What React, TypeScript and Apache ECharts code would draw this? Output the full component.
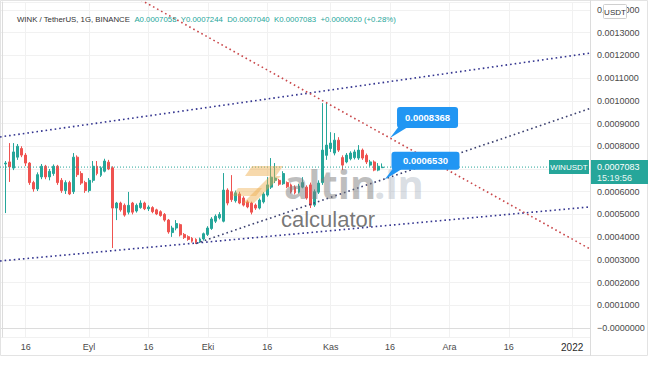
import React, { useEffect, useRef } from 'react';
import * as echarts from 'echarts';

// ---- data ----
const firstDayUTC = Date.UTC(2021, 7, 10); // first category: 2021-08-10
const dayCount = 149; // 2021-08-10 .. 2022-01-05
const firstCandleIndex = 1; // first candle on 2021-08-11

// [open, close, low, high]
const ohlc: number[][] = [
  [0.000722, 0.000726, 0.000506, 0.000735],
  [0.000731, 0.000709, 0.000643, 0.000814],
  [0.000704, 0.000775, 0.000695, 0.000814],
  [0.000752, 0.0008, 0.00074, 0.00081],
  [0.00079, 0.000761, 0.000752, 0.0008],
  [0.000761, 0.000726, 0.000713, 0.00077],
  [0.000726, 0.00064, 0.00063, 0.00073],
  [0.00064, 0.000612, 0.0006, 0.000648],
  [0.000612, 0.000675, 0.000603, 0.000685],
  [0.000665, 0.000712, 0.000655, 0.000722],
  [0.000712, 0.000665, 0.000655, 0.000718],
  [0.000665, 0.00069, 0.00065, 0.0007],
  [0.00068, 0.000712, 0.00067, 0.00072],
  [0.000712, 0.00064, 0.00063, 0.000718],
  [0.00065, 0.000605, 0.000595, 0.00066],
  [0.000605, 0.00064, 0.00059, 0.00065],
  [0.00064, 0.00059, 0.000585, 0.000648],
  [0.0006, 0.000752, 0.00059, 0.00077],
  [0.000752, 0.000675, 0.000665, 0.00076],
  [0.00068, 0.000638, 0.00063, 0.00069],
  [0.00064, 0.000605, 0.000595, 0.000648],
  [0.000605, 0.00065, 0.000597, 0.00066],
  [0.00065, 0.000712, 0.00064, 0.000735],
  [0.000712, 0.00068, 0.000672, 0.000735],
  [0.000672, 0.000705, 0.000665, 0.000712],
  [0.00069, 0.000735, 0.000685, 0.000745],
  [0.00073, 0.0007, 0.000695, 0.00074],
  [0.000705, 0.000528, 0.000352, 0.000712],
  [0.000528, 0.00055, 0.000475, 0.000555],
  [0.00055, 0.00052, 0.000512, 0.000556],
  [0.00054, 0.000497, 0.00049, 0.000548],
  [0.00051, 0.00054, 0.0005, 0.000599],
  [0.00055, 0.00051, 0.0005, 0.000555],
  [0.000515, 0.00054, 0.000508, 0.000548],
  [0.00053, 0.00055, 0.000525, 0.000562],
  [0.00055, 0.000525, 0.000519, 0.000556],
  [0.000525, 0.000532, 0.000515, 0.00054],
  [0.00053, 0.000512, 0.000505, 0.000536],
  [0.00052, 0.000502, 0.000497, 0.000525],
  [0.000512, 0.000495, 0.00049, 0.000518],
  [0.0005, 0.000475, 0.000468, 0.000506],
  [0.000475, 0.000423, 0.000415, 0.00048],
  [0.00042, 0.00044, 0.000401, 0.00045],
  [0.00044, 0.00046, 0.00043, 0.000475],
  [0.000455, 0.00041, 0.000403, 0.00046],
  [0.000412, 0.000398, 0.000392, 0.000418],
  [0.000402, 0.00039, 0.000384, 0.000408],
  [0.000395, 0.000382, 0.000376, 0.0004],
  [0.00039, 0.000378, 0.00037, 0.000395],
  [0.00038, 0.000392, 0.000374, 0.000398],
  [0.000392, 0.000415, 0.000385, 0.00042],
  [0.000412, 0.00044, 0.000405, 0.000448],
  [0.000438, 0.00048, 0.000432, 0.000488],
  [0.00047, 0.000492, 0.000462, 0.0005],
  [0.000485, 0.0005, 0.000478, 0.00051],
  [0.00047, 0.000607, 0.000465, 0.000682],
  [0.000607, 0.00055, 0.00054, 0.000615],
  [0.0006, 0.000565, 0.000555, 0.000673],
  [0.00056, 0.000595, 0.000552, 0.000605],
  [0.00059, 0.00055, 0.000545, 0.0006],
  [0.000572, 0.000541, 0.000535, 0.00058],
  [0.000555, 0.000533, 0.000527, 0.000562],
  [0.00055, 0.00051, 0.0005, 0.000556],
  [0.000541, 0.000528, 0.00052, 0.000548],
  [0.000528, 0.000563, 0.000522, 0.00057],
  [0.000555, 0.00059, 0.000548, 0.000598],
  [0.000585, 0.00063, 0.000578, 0.000664],
  [0.00062, 0.000664, 0.000612, 0.000748],
  [0.00065, 0.00066, 0.000638, 0.000726],
  [0.00065, 0.000633, 0.000626, 0.000656],
  [0.000635, 0.00068, 0.00063, 0.00069],
  [0.00064, 0.000622, 0.000616, 0.000645],
  [0.00063, 0.000599, 0.000592, 0.000636],
  [0.00062, 0.000595, 0.000588, 0.000628],
  [0.000598, 0.000625, 0.000592, 0.000635],
  [0.00062, 0.00064, 0.000615, 0.000664],
  [0.00062, 0.000572, 0.000565, 0.000628],
  [0.00063, 0.000541, 0.000528, 0.00064],
  [0.000541, 0.0006, 0.000533, 0.00061],
  [0.000598, 0.000638, 0.00059, 0.00065],
  [0.00064, 0.000783, 0.00063, 0.00099],
  [0.00076, 0.000805, 0.00074, 0.00099],
  [0.00079, 0.000814, 0.000775, 0.000862],
  [0.00077, 0.000827, 0.00076, 0.000858],
  [0.000827, 0.000783, 0.000775, 0.00084],
  [0.00075, 0.000717, 0.000695, 0.00076],
  [0.000731, 0.000761, 0.000725, 0.00077],
  [0.000745, 0.00077, 0.000738, 0.000778],
  [0.00075, 0.000775, 0.000742, 0.000785],
  [0.000748, 0.000783, 0.00074, 0.000805],
  [0.000783, 0.000748, 0.00074, 0.00079],
  [0.00076, 0.000731, 0.000722, 0.000768],
  [0.000717, 0.000731, 0.00071, 0.00074],
  [0.000731, 0.000695, 0.00069, 0.000738],
  [0.000695, 0.000712, 0.00069, 0.000726],
  [0.0007058, 0.0007083, 0.000704, 0.0007244],
];

const tickLabels: [string, string][] = [
  ['2021-08-16', '16'],
  ['2021-09-01', 'Eyl'],
  ['2021-09-16', '16'],
  ['2021-10-01', 'Eki'],
  ['2021-10-16', '16'],
  ['2021-11-01', 'Kas'],
  ['2021-11-16', '16'],
  ['2021-12-01', 'Ara'],
  ['2021-12-16', '16'],
  ['2022-01-01', '2022'],
];

// drawn trend lines: [day index, price]
const upperChannel: number[][] = [[-0.5, 0.000841], [148.5, 0.00121]];
const lowerChannel: number[][] = [[-0.5, 0.000295], [148.5, 0.000533]];
const risingSupport: number[][] = [[49, 0.000372], [148.5, 0.000966]];
const fallingResistance: number[][] = [[35.1, 0.001444], [148.5, 0.000348]];

const calloutPoints = [
  { day: 98, price: 0.0008368, text: '0.0008368' },
  { day: 96.6, price: 0.000653, text: '0.0006530' },
];

const lastPrice = 0.0007083;
const lastPriceText = '0.0007083';
const countdownText = '15:19:56';
const symbolText = 'WINUSDT';
const header = {
  title: 'WINK / TetherUS, 1G, BINANCE',
  open: 'A0.0007058',
  high: 'Y0.0007244',
  low: 'D0.0007040',
  close: 'K0.0007083',
  change: '+0.0000020 (+0.28%)',
};

const yMin = -0.0000396;
const yMax = 0.001435;

// ---- helpers ----
const categories: string[] = Array.from({ length: dayCount }, (_, i) =>
  new Date(firstDayUTC + i * 86400000).toISOString().slice(0, 10)
);
const labelMap: Record<string, string> = {};
tickLabels.forEach(([d, t]) => (labelMap[d] = t));
const labelIdx = new Set<number>(categories.map((c, i) => (labelMap[c] ? i : -1)).filter((i) => i >= 0));

const candleSeriesData: any[] = [];
for (let i = 0; i < firstCandleIndex + ohlc.length; i++) {
  const k = i - firstCandleIndex;
  candleSeriesData.push(k >= 0 ? ohlc[k] : ['-', '-', '-', '-']);
}
const priceLineData: number[][] = [[-0.5, lastPrice], [dayCount - 0.5, lastPrice]];

const UP = '#26a69a';
const DOWN = '#ef5350';
const FONT = 'Liberation Sans, Arial, sans-serif';
const NAVY = '#33348f';

export default function App() {
  const ref = useRef<HTMLDivElement>(null);
  useEffect(() => {
    if (!ref.current) return;
    const chart = echarts.init(ref.current, undefined, { renderer: 'svg' });
    const trend = (data: number[][], color: string, type: any = [1.6, 3], width = 1.6) => ({
      type: 'line',
      xAxisIndex: 1,
      yAxisIndex: 0,
      data,
      symbol: 'none',
      showSymbol: false,
      silent: true,
      z: 3,
      lineStyle: { color, width, type },
    });
    const option: any = {
      animation: false,
      backgroundColor: '#ffffff',
      textStyle: { fontFamily: FONT },
      title: {
        left: 12,
        top: 10,
        text: `{s|${header.title}}  {v|${header.open}}  {v|${header.high}}  {v|${header.low}}  {v|${header.close}}  {v|${header.change}}`,
        textStyle: {
          fontSize: 7.8,
          fontWeight: 'normal',
          rich: {
            s: { color: '#333333', fontSize: 7.8, fontFamily: FONT },
            v: { color: UP, fontSize: 7.8, fontFamily: FONT },
          },
        },
      },
      grid: { left: 0, right: 64, top: 2, bottom: 29, containLabel: false, outerBoundsMode: 'none' },
      xAxis: [
        {
          type: 'category',
          data: categories,
          boundaryGap: true,
          axisLine: { show: true, lineStyle: { color: '#dcdcdc' } },
          axisTick: { show: false },
          axisLabel: {
            interval: (i: number) => labelIdx.has(i),
            formatter: (v: string) => (labelMap[v] === '2022' ? '{b|2022}' : labelMap[v] || ''),
            color: '#4a4a4a',
            fontSize: 9,
            margin: 5,
            fontFamily: FONT,
            rich: { b: { fontSize: 10, color: '#2a2a2a', fontFamily: FONT } },
          },
          splitLine: {
            show: true,
            interval: (i: number) => labelIdx.has(i),
            alignWithLabel: true,
            lineStyle: { color: '#f1f1f1' },
          },
        },
        { type: 'value', min: -0.5, max: dayCount - 0.5, show: false },
      ],
      yAxis: {
        type: 'value',
        position: 'right',
        min: yMin,
        max: yMax,
        splitNumber: 15,
        axisLine: { show: true, lineStyle: { color: '#dcdcdc' } },
        axisTick: { show: false },
        axisLabel: {
          showMinLabel: false,
          showMaxLabel: false,
          color: '#4a4a4a',
          fontSize: 9,
          margin: 7,
          fontFamily: FONT,
          // the 0.0007 label sits under the last-price box in the reference
          formatter: (v: number) =>
            Math.abs(v) < 1e-12 ? '\u22120.0000000' : Math.abs(v - 0.0007) < 1e-9 ? '' : v.toFixed(7),
        },
        splitLine: { show: true, lineStyle: { color: '#f1f1f1' } },
      },
      series: [
        {
          type: 'candlestick',
          data: candleSeriesData,
          barWidth: 2.4,
          z: 2,
          itemStyle: { color: UP, color0: DOWN, borderColor: UP, borderColor0: DOWN, borderWidth: 1 },
        },
        trend(priceLineData, UP, [1, 2], 1),
        trend(upperChannel, NAVY),
        trend(lowerChannel, NAVY),
        trend(risingSupport, '#3a3f6e'),
        trend(fallingResistance, '#c9474a'),
      ],
      graphic: [
        { type: 'rect', id: 'frame', silent: true, z: 1, shape: { x: 0.5, y: 0.5, width: 647, height: 355 }, style: { fill: 'none', stroke: '#e3e3e3' } },
        { type: 'line', id: 'sep', silent: true, z: 1, shape: { x1: 590.5, y1: 0, x2: 590.5, y2: 356 }, style: { stroke: '#dcdcdc' } },
        // watermark
        { type: 'polygon', id: 'logo1', silent: true, z: 8, shape: { points: [[252, 166], [283, 166], [276, 176], [245, 176]] }, style: { fill: 'rgba(238,170,70,0.45)' } },
        { type: 'polygon', id: 'logo2', silent: true, z: 8, shape: { points: [[270, 176], [281, 176], [254, 203], [243, 203]] }, style: { fill: 'rgba(238,170,70,0.45)' } },
        { type: 'polygon', id: 'logo3', silent: true, z: 8, shape: { points: [[238, 188], [262, 188], [256, 196], [232, 196]] }, style: { fill: 'rgba(238,170,70,0.4)' } },
        { type: 'text', id: 'wm1', silent: true, z: 8, x: 284, y: 203, style: { text: 'altin', fill: 'rgba(125,125,125,0.5)', font: 'bold 40px "Open Sans", sans-serif', textVerticalAlign: 'bottom', verticalAlign: 'bottom' } },
        { type: 'text', id: 'wm2', silent: true, z: 8, x: 374, y: 203, style: { text: '.in', fill: 'rgba(160,170,185,0.4)', font: 'bold 40px "Open Sans", sans-serif', textVerticalAlign: 'bottom', verticalAlign: 'bottom' } },
        { type: 'text', id: 'wm3', silent: true, z: 8, x: 281, y: 230, style: { text: 'calculator', fill: 'rgba(95,95,95,0.85)', font: '22px "Liberation Sans", Arial, sans-serif', textVerticalAlign: 'bottom', verticalAlign: 'bottom' } },
        // currency box
        { type: 'rect', id: 'usdtBox', silent: true, z: 20, shape: { x: 603.5, y: 4.5, width: 23, height: 14, r: 1 }, style: { fill: '#ffffff', stroke: '#cfcfcf' } },
        { type: 'text', id: 'usdtText', silent: true, z: 21, x: 615, y: 12, style: { text: 'USDT', fill: '#333333', font: '8px "Liberation Sans", Arial, sans-serif', textAlign: 'center', align: 'center', textVerticalAlign: 'middle', verticalAlign: 'middle' } },
      ],
    };
    chart.setOption(option);

    const py = chart.convertToPixel({ yAxisIndex: 0 }, lastPrice) as unknown as number;
    const dyn: any[] = [
      { type: 'rect', id: 'symBox', silent: true, z: 20, shape: { x: 549, y: py - 7, width: 40, height: 14 }, style: { fill: UP } },
      { type: 'text', id: 'symText', silent: true, z: 21, x: 569, y: py, style: { text: symbolText, fill: '#ffffff', font: '8px "Liberation Sans", Arial, sans-serif', textAlign: 'center', align: 'center', textVerticalAlign: 'middle', verticalAlign: 'middle' } },
      { type: 'rect', id: 'pxBox', silent: true, z: 20, shape: { x: 591, y: py - 7, width: 57, height: 24 }, style: { fill: UP } },
      { type: 'text', id: 'pxText', silent: true, z: 21, x: 597, y: py, style: { text: lastPriceText, fill: '#ffffff', font: '9px "Liberation Sans", Arial, sans-serif', textVerticalAlign: 'middle', verticalAlign: 'middle' } },
      { type: 'text', id: 'cdText', silent: true, z: 21, x: 597, y: py + 10.5, style: { text: countdownText, fill: '#e8f6f4', font: '9px "Liberation Sans", Arial, sans-serif', textVerticalAlign: 'middle', verticalAlign: 'middle' } },
    ];
    const boxes = [
      { w: 61, h: 21 },
      { w: 68, h: 18 },
    ];
    calloutPoints.forEach((c, k) => {
      const p = chart.convertToPixel({ xAxisIndex: 1, yAxisIndex: 0 }, [c.day, c.price]) as unknown as number[];
      const ax = p[0];
      const ay = p[1];
      const b = boxes[k];
      const bx = ax + 7;
      const bBottom = ay - 10;
      const by = bBottom - b.h;
      dyn.push(
        { type: 'polygon', id: 'tail' + k, silent: true, z: 22, shape: { points: [[ax, ay], [bx + 2, bBottom - 2], [bx + 10, bBottom - 0.5]] }, style: { fill: '#2196f3' } },
        { type: 'rect', id: 'cbox' + k, silent: true, z: 22, shape: { x: bx, y: by, width: b.w, height: b.h, r: 3 }, style: { fill: '#2196f3' } },
        { type: 'text', id: 'ctext' + k, silent: true, z: 23, x: bx + b.w / 2, y: by + b.h / 2, style: { text: c.text, fill: '#ffffff', font: 'bold 9.5px "Liberation Sans", Arial, sans-serif', textAlign: 'center', align: 'center', textVerticalAlign: 'middle', verticalAlign: 'middle' } }
      );
    });
    chart.setOption({ graphic: dyn });

    return () => chart.dispose();
  }, []);
  return <div ref={ref} style={{ position: 'fixed', left: 0, top: 0, width: 654, height: 366, background: '#fff' }} />;
}
